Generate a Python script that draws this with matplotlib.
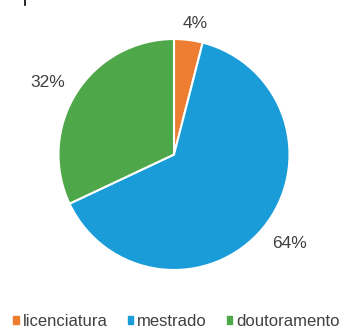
import matplotlib
matplotlib.use("Agg")
import matplotlib.pyplot as plt

categories = ["licenciatura", "mestrado", "doutoramento"]
values = [4, 64, 32]
colors = ["#ED7D31", "#1A9CD8", "#4EA748"]
# percentage label anchors, in pie-radius units from the centre
label_xy = [(0.182, 1.134), (1.004, -0.770), (-1.095, 0.623)]

W, H = 342, 328
fig = plt.figure(figsize=(W / 100, H / 100), dpi=100)
cx, cy, r = 174, 154.5, 115.5
ax = fig.add_axes([(cx - r) / W, (H - cy - r) / H, 2 * r / W, 2 * r / H])

wedges, _ = ax.pie(values, colors=colors, startangle=90, counterclock=False,
                   radius=1.0, wedgeprops=dict(edgecolor="white", linewidth=1.5))
ax.set_xlim(-1, 1)
ax.set_ylim(-1, 1)
ax.set_aspect("equal")
ax.axis("off")

total = sum(values)
for v, (lx, ly) in zip(values, label_xy):
    ax.text(lx, ly, f"{round(100 * v / total)}%",
            ha="center", va="center", fontsize=12.5, color="#404040",
            fontfamily="Liberation Sans", clip_on=False)

handles = [plt.Rectangle((0, 0), 1, 1, color=c) for c in colors]
fig.legend(handles, categories, loc="center", bbox_to_anchor=(176.5 / W, 1 - 321.5 / H),
           ncol=3, frameon=False, handlelength=0.32, handleheight=0.32,
           handletextpad=0.25, columnspacing=1.2,
           prop=dict(family="Liberation Sans", size=12), labelcolor="#404040")

fig.add_artist(plt.Line2D([25 / W, 25 / W], [1, 1 - 5 / H], color="black", lw=1.2))

fig.savefig("out.png", dpi=100, facecolor="white")
